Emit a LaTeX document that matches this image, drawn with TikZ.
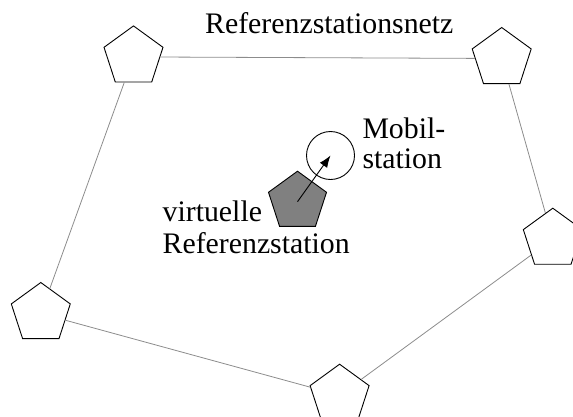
\documentclass[tikz,border=0pt]{standalone}
\usepackage{fontspec}
\setmainfont{Liberation Serif}
\usetikzlibrary{shapes.geometric,arrows.meta}
\begin{document}
\begin{tikzpicture}[x=1pt,y=-1pt,
  station/.style={draw=black,line width=0.9pt,fill=white,regular polygon,regular polygon sides=5,
    minimum size=62pt,inner sep=0pt,line join=miter},
  vstation/.style={station,fill=gray},
  link/.style={draw=gray!90,line width=0.8pt},
  label/.style={font=\fontsize{29.8pt}{31pt}\selectfont,inner sep=0pt,anchor=base west}]
\useasboundingbox (0,0) rectangle (573,416);
\clip (0,0) rectangle (573,416);
% reference stations of the network
\node[station] (s1) at (133.5,56.9) {};
\node[station] (s2) at (501.7,58.5) {};
\node[station] (s3) at (552.8,239.2) {};
\node[station] (s4) at (40.8,313.5) {};
\node[station] (s5) at (339.6,395.2) {};
% network links
\draw[link] (s1) -- (s2);
\draw[link] (s2) -- (s3);
\draw[link] (s3) -- (s5);
\draw[link] (s5) -- (s4);
\draw[link] (s4) -- (s1);
% virtual reference station and mobile station
\node[vstation,minimum size=61pt] (vrs) at (297.5,201.7) {};
\node[draw=black,line width=0.9pt,circle,minimum size=48pt,inner sep=0pt] (ms) at (330.5,155.5) {};
\draw[line width=0.9pt,-{Latex[length=12pt,width=9pt]}] (vrs.center) -- (ms.center);
% labels
\node[label] (t1) at (205,33.3) {Referenzstationsnetz};
\node[label] (t2) at (362.3,138.3) {Mobil-};
\node[label] (t3) at (362.3,168.3) {station};
\node[label] (t4) at (162.5,221.7) {virtuelle};
\node[label] (t5) at (162.5,253.3) {Referenzstation};
\end{tikzpicture}
\end{document}
